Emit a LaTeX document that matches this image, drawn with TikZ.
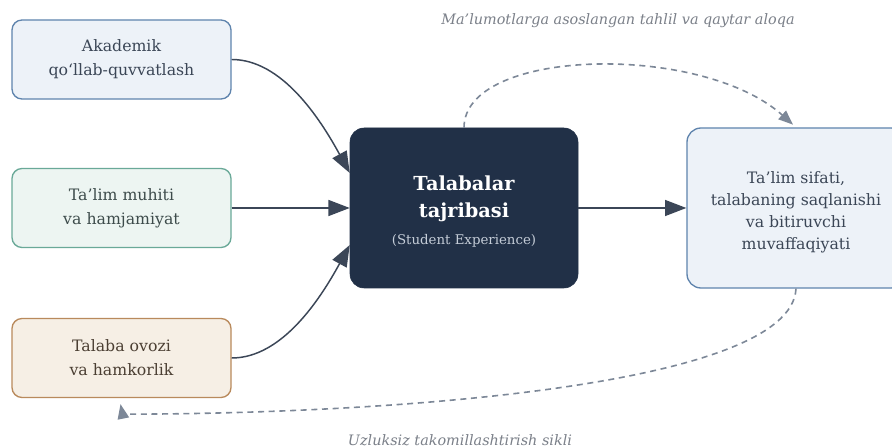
\documentclass[tikz,border=0pt]{standalone}
\usepackage{fontspec}
\setmainfont{DejaVu Serif}
\usetikzlibrary{arrows.meta,calc}
\definecolor{boxAfill}{HTML}{EDF2F8}
\definecolor{boxAdraw}{HTML}{5F84AD}
\definecolor{boxBfill}{HTML}{EDF5F2}
\definecolor{boxBdraw}{HTML}{6AA998}
\definecolor{boxCfill}{HTML}{F6EFE5}
\definecolor{boxCdraw}{HTML}{B98A5C}
\definecolor{navy}{HTML}{213047}
\definecolor{subtxt}{HTML}{C5CDD8}
\definecolor{txtA}{HTML}{3B4656}
\definecolor{txtB}{HTML}{3D4B4B}
\definecolor{txtC}{HTML}{4B3F33}
\definecolor{arrowc}{HTML}{3B4657}
\definecolor{dashc}{HTML}{7D8898}
\definecolor{labelc}{HTML}{7B8089}
\tikzset{
  inbox/.style={rounded corners=7.5pt, line width=1pt, minimum width=164.25pt, minimum height=59.25pt, align=center, inner sep=0pt, font=\fontsize{11.8}{17.8}\selectfont},
  mainbox/.style={rounded corners=10.5pt, fill=navy, draw=navy, minimum width=171pt, minimum height=120pt, inner sep=0pt},
  maintext/.style={align=center, inner sep=0pt, text=white, font=\fontsize{14.5}{20.3}\selectfont\bfseries},
  outbox/.style={rounded corners=10.5pt, line width=1pt, fill=boxAfill, draw=boxAdraw, minimum width=163.5pt, minimum height=120pt, inner sep=0pt},
  outtext/.style={align=center, inner sep=0pt, text=txtA, font=\fontsize{11.8}{16.6}\selectfont},
  solidarrow/.style={draw=arrowc, line width=1.1pt, -{Triangle[length=16pt,width=12pt]}},
  dasharrow/.style={draw=dashc, line width=1.2pt, dash pattern=on 4.5pt off 3.5pt, -{Triangle[length=11pt,width=8.5pt]}},
  caption/.style={text=labelc, font=\fontsize{10.8}{12}\selectfont\itshape}
}
\begin{document}
\begin{tikzpicture}[x=0.75pt,y=-0.75pt]
\useasboundingbox (0,0) rectangle (892,448);
\clip (0,0) rectangle (892,448);
\fill[white] (0,0) rectangle (892,448);
\node[inbox, fill=boxAfill, draw=boxAdraw, text=txtA] (a) at (121.5,59.5) {Akademik\\qo\char"02BB llab-quvvatlash};
\node[inbox, fill=boxBfill, draw=boxBdraw, text=txtB] (b) at (121.5,208) {Ta\char"2019 lim muhiti\\va hamjamiyat};
\node[inbox, fill=boxCfill, draw=boxCdraw, text=txtC] (c) at (121.5,358) {Talaba ovozi\\va hamkorlik};
\node[mainbox] (m) at (464,208) {};
\node[maintext] (mt) at (464,211.5) {Talabalar\\tajribasi\\[0.5pt]\mdseries\fontsize{10}{12}\selectfont\textcolor{subtxt}{(Student Experience)}};
\node[outbox] (r) at (796,208) {};
\node[outtext] (rt) at (796,212) {Ta\char"2019 lim sifati,\\talabaning saqlanishi\\va bitiruvchi\\muvaffaqiyati};
\node[caption] (t1) at (618,21) {Ma\char"2019 lumotlarga asoslangan tahlil va qaytar aloqa};
\node[caption] (t2) at (460,440) {Uzluksiz takomillashtirish sikli};
\coordinate (m1) at ($(m.west)+(0,-35)$);
\coordinate (m3) at ($(m.west)+(0,37)$);
\coordinate (cb) at ($(c.south)+(-1,6)$);
\coordinate (cbase) at ($(c.south)+(1,16)$);
\draw[solidarrow] (a.east) .. controls +(50,0) and +(-30,-55) .. (m1);
\draw[solidarrow] (b.east) -- (m.west);
\draw[solidarrow] (c.east) .. controls +(50,0) and +(-30,55) .. (m3);
\draw[solidarrow] (m.east) -- (r.west);
\draw[dasharrow, shorten >=3pt] (m.north) .. controls +(0,-80) and +(-95,-85) .. (r.north);
\draw[dasharrow] (r.south) .. controls +(-5,100) and +(250,0) .. (cbase) -- (cb);
\end{tikzpicture}
\end{document}
